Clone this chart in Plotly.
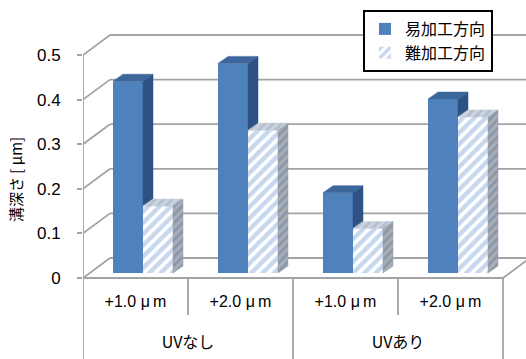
import plotly.graph_objects as go

# ---- data ----
categories = ["+1.0 μ\u2009m", "+2.0 μ\u2009m", "+1.0 μ\u2009m", "+2.0 μ\u2009m"]
groups = ["UVなし", "UVあり"]
series_names = ["易加工方向", "難加工方向"]
easy_values = [0.43, 0.47, 0.18, 0.39]
hard_values = [0.15, 0.32, 0.10, 0.35]
y_ticks = [0, 0.1, 0.2, 0.3, 0.4, 0.5]
y_title = "溝深さ [ μm]"

# ---- geometry (pixels) ----
W, H = 526, 359
ML = 83                 # left margin = front value axis position
SLOT = 105              # width of one category slot in pixels
PXV = 446               # pixels per 1.0 value
ZERO_PY = 278           # pixel row of value 0 on the front plane
WALL_DX, WALL_DY = 27, 20     # oblique offset of the back wall
PLANE_DY = 5                  # vertical offset of the bar plane
BAR_DX, BAR_DY = 10, 7        # depth of each bar
BAR_W = 30
BAR_LEFT = 30                 # first bar's left edge inside a slot

def ux(px):
    return px / SLOT

def uy(px):
    return px / PXV

x_max = ux(W - ML)
y_min = (ZERO_PY - H) / PXV
y_max = ZERO_PY / PXV
n = len(categories)

GRID = "#a3a3a3"
BLUE = "#4f81bd"
BLUE_TOP = "#3d679c"
BLUE_SIDE = "#2e5284"
STRIPE = "#8fb0de"

fig = go.Figure()

# wall, floor and category-axis lines
shapes = []
def seg(x0, y0, x1, y1, w=1.8):
    shapes.append(dict(type="line", xref="x", yref="y", x0=x0, y0=y0, x1=x1, y1=y1,
                       line=dict(color=GRID, width=w), layer="below"))

for v in y_ticks:
    seg(0, v, ux(WALL_DX), v + uy(WALL_DY))
    seg(ux(WALL_DX), v + uy(WALL_DY), x_max + 1, v + uy(WALL_DY))
seg(0, 0, n, 0)
seg(n, 0, n + ux(WALL_DX), uy(WALL_DY))
seg(0, max(y_ticks), 0, y_min)
for i in range(1, n + 1):
    bottom = y_min if i % 2 == 0 else (ZERO_PY - 315) / PXV
    seg(i, 0, i, bottom)

base = uy(PLANE_DY)
easy_x = [i + ux(BAR_LEFT + BAR_W / 2) for i in range(n)]
hard_x = [i + ux(BAR_LEFT + BAR_W * 1.5) for i in range(n)]

fig.add_trace(go.Bar(
    x=easy_x, y=easy_values, base=base, width=ux(BAR_W), name=series_names[0],
    marker=dict(color=BLUE, line=dict(width=0)), legendgroup="a"))
fig.add_trace(go.Bar(
    x=hard_x, y=hard_values, base=base, width=ux(BAR_W), name=series_names[1],
    marker=dict(color="white", line=dict(width=0),
                pattern=dict(shape="/", fgcolor=STRIPE, bgcolor="white", size=8, solidity=0.55)),
    legendgroup="b"))

def poly_trace(polys, fill, pattern=None):
    xs, ys = [], []
    for p in polys:
        for (a, b) in p:
            xs.append(a)
            ys.append(b)
        xs.append(p[0][0]); ys.append(p[0][1])
        xs.append(None); ys.append(None)
    kw = dict(x=xs, y=ys, mode="lines", fill="toself", fillcolor=fill,
              line=dict(width=0.5, color=fill), showlegend=False, hoverinfo="skip")
    if pattern:
        kw["fillpattern"] = pattern
    return go.Scatter(**kw)

bdx, bdy = ux(BAR_DX), uy(BAR_DY)
w = ux(BAR_W)
easy_side, easy_top, hard_top, hard_side = [], [], [], []
for i in range(n):
    x0 = easy_x[i] - w / 2
    x1 = x0 + w
    x2 = x1 + w
    et = base + easy_values[i]
    ht = base + hard_values[i]
    lo = min(ht, et)
    easy_side.append([(x1, lo), (x1, et), (x1 + bdx, et + bdy), (x1 + bdx, lo + bdy)])
    easy_top.append([(x0, et), (x1, et), (x1 + bdx, et + bdy), (x0 + bdx, et + bdy)])
    hard_top.append([(x1, ht), (x2, ht), (x2 + bdx, ht + bdy), (x1 + bdx, ht + bdy)])
    hard_side.append([(x2, base), (x2, ht), (x2 + bdx, ht + bdy), (x2 + bdx, base + bdy)])

fig.add_trace(poly_trace(easy_side, BLUE_SIDE))
fig.add_trace(poly_trace(easy_top, BLUE_TOP))
fig.add_trace(poly_trace(hard_top, "#c3ccd9",
                         dict(shape="/", fgcolor="#98a8bf", bgcolor="#ccd4df", size=6, solidity=0.45)))
fig.add_trace(poly_trace(hard_side, "#949daa",
                         dict(shape="/", fgcolor="#737d8e", bgcolor="#a6aeba", size=6, solidity=0.45)))

# category and group labels
label_font = dict(size=16, color="black", family="Liberation Sans, Arial, Noto Sans CJK JP")
fig.add_trace(go.Scatter(
    x=[i + 0.5 for i in range(n)], y=[(ZERO_PY - 303) / PXV] * n, text=categories,
    mode="text", textfont=label_font,
    cliponaxis=False, showlegend=False, hoverinfo="skip"))
fig.add_trace(go.Scatter(
    x=[1, 3], y=[(ZERO_PY - 344) / PXV] * 2, text=groups,
    mode="text", textfont=dict(size=16, color="black", family="Noto Sans CJK JP"),
    cliponaxis=False, showlegend=False, hoverinfo="skip"))

fig.update_layout(
    width=W, height=H,
    margin=dict(l=ML, r=0, t=0, b=0),
    paper_bgcolor="white", plot_bgcolor="white",
    barmode="overlay", shapes=shapes,
    showlegend=True,
    legend=dict(x=(363 - ML) / (W - ML), y=1 - 10 / H, xanchor="left", yanchor="top",
                bgcolor="white", bordercolor="black", borderwidth=2,
                font=dict(size=16, color="black", family="Noto Sans CJK JP"),
                traceorder="grouped", tracegroupgap=0, itemwidth=30),
    xaxis=dict(range=[0, x_max], visible=False, fixedrange=True),
    yaxis=dict(range=[y_min, y_max], tickvals=y_ticks, ticktext=[f"{t:g}" for t in y_ticks],
               ticks="outside", ticklen=5, tickcolor=GRID, tickwidth=1.8,
               showgrid=False, zeroline=False, showline=False,
               ticklabelstandoff=13,
               tickfont=dict(size=17, color="black", family="Liberation Sans, Arial"),
               title=dict(text=y_title, standoff=10,
                          font=dict(size=15, color="black", family="Noto Sans CJK JP")),
               fixedrange=True),
)

fig.write_html("out.html")
